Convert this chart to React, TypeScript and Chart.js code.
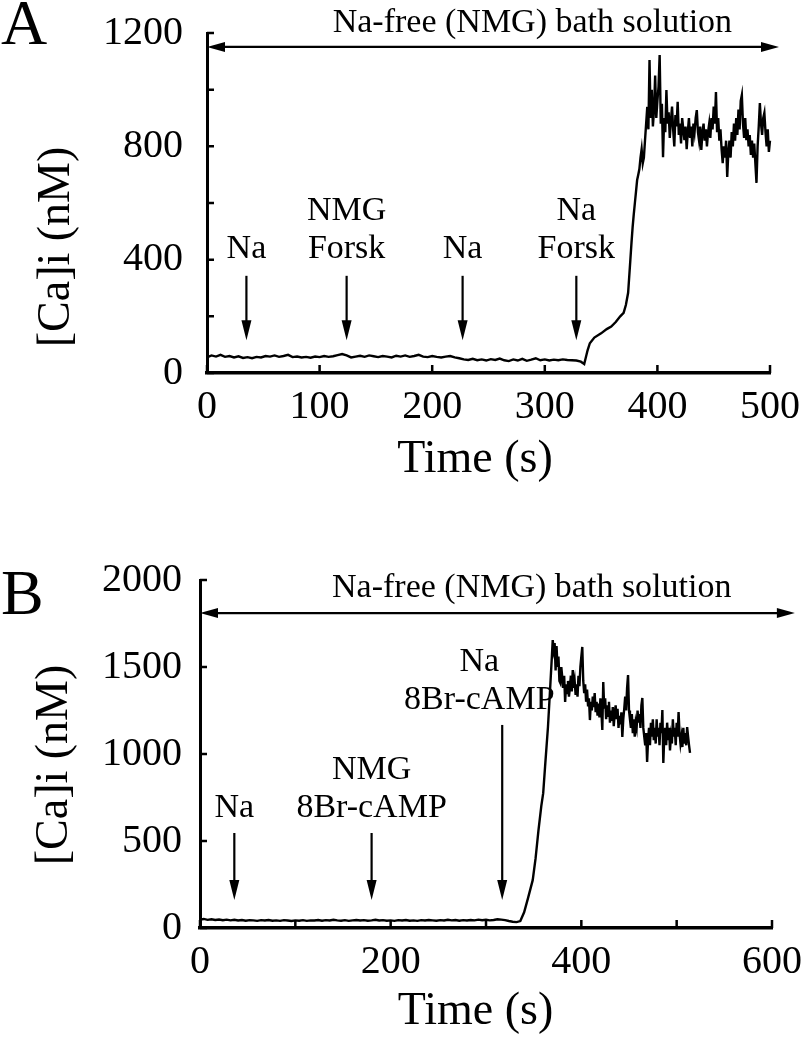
import React, { useEffect, useRef } from "react";
import { Chart, registerables } from "chart.js";

Chart.register(...registerables);

// ================= Panel A : Forskolin =================
// baseline, sampled every 4 s from t = 0 s
const baselineStepA = 4;
const baselineA = [
  55, 62, 58, 64, 57, 60, 55, 59, 53, 56,
  52, 57, 55, 60, 58, 62, 57, 60, 64, 56,
  58, 55, 57, 54, 58, 56, 60, 57, 59, 63,
  67, 62, 55, 58, 61, 57, 62, 59, 56, 60,
  58, 55, 61, 58, 62, 57, 60, 64, 58, 56,
  60, 57, 55, 58, 60, 55, 52, 48, 46, 50,
  45, 48, 44, 49, 46, 51, 45, 42, 48, 44,
  50, 43, 47, 52, 45, 48, 44, 47, 45, 48,
  46, 45, 44, 40,
];
// onset of the rise
const riseTimesA = [335, 338, 340, 344, 350, 355, 359, 363, 367, 370, 372, 374];
const riseValuesA = [32, 80, 105, 125, 140, 155, 164, 180, 200, 212, 240, 283];
// plateau, sampled every 1 s from t = 376 s
const plateauStartA = 376;
const plateauStepA = 1;
const plateauA = [
  400, 460, 515, 560, 600, 640, 681, 700, 720, 760,
  790, 740, 760, 822, 880, 939, 860, 1105, 900, 1000,
  870, 928, 1050, 900, 960, 1010, 1122, 880, 950, 762,
  900, 850, 999, 880, 920, 830, 890, 940, 858, 800,
  910, 870, 957, 840, 880, 810, 900, 860, 822, 870,
  790, 850, 900, 830, 870, 800, 880, 850, 900, 928,
  850, 820, 870, 787, 850, 880, 820, 860, 800, 850,
  880, 830, 900, 860, 940, 880, 992, 850, 900, 820,
  860, 790, 741, 800, 760, 820, 692, 780, 820, 760,
  850, 800, 880, 820, 900, 840, 930, 860, 960, 981,
  880, 830, 900, 822, 860, 800, 840, 770, 820, 760,
  810, 740, 671, 800, 870, 953, 880, 840, 900, 918,
  850, 800, 860, 780, 820, 790, 762,
];
const xTickLabelsA = [0, 100, 200, 300, 400, 500];
const yTickLabelsA = [0, 400, 800, 1200];
const eventTimesA = [35, 124, 227, 328];
const eventTextA = [["Na"], ["NMG", "Forsk"], ["Na"], ["Na", "Forsk"]];
const eventTextAtA = [35, 124, 227, 328];
const eventArrowFromA = [343, 343, 343, 343];
const eventArrowToA = [116, 116, 116, 116];
const eventTextLevelA = [438, 438, 438, 438];
const bathRangeA = [0, 508];
const bathLevelA = 1151;
const bathTextPosA = [289, 1235];

// ================= Panel B : 8Br-cAMP =================
const baselineStepB = 4;
const baselineB = [
  48, 52, 47, 50, 46, 49, 45, 48, 44, 47,
  43, 46, 42, 45, 44, 41, 45, 43, 46, 42,
  44, 41, 45, 43, 40, 44, 42, 45, 41, 44,
  43, 46, 42, 45, 43, 47, 44, 42, 45, 41,
  44, 46, 43, 45, 42, 44, 47, 43, 45, 42,
  44, 41, 45, 43, 46, 42, 44, 41, 45, 43,
  46, 44, 42, 45, 43, 47, 44, 46, 42, 45,
  43, 46, 44, 48, 45, 47, 44, 46, 50, 48,
  45, 40, 36, 34,
];
const riseTimesB = [336, 340, 344, 349, 352, 355, 358, 360, 362, 365, 367, 369, 370];
const riseValuesB = [40, 90, 170, 275, 400, 560, 700, 775, 930, 1155, 1350, 1550, 1655];
const plateauStartB = 371;
const plateauStepB = 1;
const plateauB = [
  1600, 1638, 1480, 1620, 1500, 1560, 1420, 1408, 1500, 1440,
  1380, 1450, 1299, 1400, 1350, 1420, 1330, 1380, 1450, 1360,
  1483, 1380, 1420, 1340, 1400, 1330, 1450, 1390, 1500, 1560,
  1615, 1420, 1350, 1400, 1300, 1370, 1280, 1320, 1195, 1300,
  1250, 1330, 1270, 1350, 1240, 1300, 1220, 1290, 1210, 1320,
  1250, 1138, 1414, 1260, 1320, 1200, 1280, 1220, 1300, 1180,
  1250, 1190, 1270, 1160, 1230, 1280, 1200, 1260, 1150, 1220,
  1170, 1240, 1098, 1200, 1260, 1330, 1250, 1380, 1454, 1250,
  1200, 1150, 1230, 1120, 1200, 1100, 1180, 1150, 1250, 1180,
  1230, 1150, 1280, 1322, 1150, 1100, 1050, 1120, 954, 1080,
  1150, 1050, 1180, 1100, 1200, 1080, 1150, 1060, 1200, 1100,
  1150, 1050, 1180, 1120, 1253, 948, 1100, 1150, 1050, 1180,
  1080, 1150, 1020, 1100, 1060, 1200, 1100, 1150, 1050, 1180,
  1100, 1241, 1120, 1060, 1100, 1040, 1150, 1060, 1120, 1050,
  1155, 1100, 1050, 1006,
];
const xTickLabelsB = [0, 200, 400, 600];
const yTickLabelsB = [0, 500, 1000, 1500, 2000];
const eventTimesB = [36, 180, 317];
const eventTextB = [["Na"], ["NMG", "8Br-cAMP"], ["Na", "8Br-cAMP"]];
const eventTextAtB = [36, 180, 293];
const eventArrowFromB = [546, 546, 1167];
const eventArrowToB = [161, 161, 161];
const eventTextLevelB = [690, 690, 1310];
const bathRangeB = [0, 624];
const bathLevelB = 1810;
const bathTextPosB = [348, 1954];

const BATH_TEXT = "Na-free (NMG) bath solution";
const Y_TITLE = "[Ca]i (nM)";
const X_TITLE = "Time (s)";

const SERIF = '"Liberation Serif", "DejaVu Serif", "Times New Roman", serif';

function buildTrace(
  baseStep: number,
  base: number[],
  riseT: number[],
  riseV: number[],
  platStart: number,
  platStep: number,
  plat: number[]
) {
  const pts: { x: number; y: number }[] = [];
  base.forEach((v, i) => pts.push({ x: i * baseStep, y: v }));
  riseT.forEach((t, i) => pts.push({ x: t, y: riseV[i] }));
  plat.forEach((v, i) => pts.push({ x: platStart + i * platStep, y: v }));
  return pts;
}

type PanelCfg = {
  letter: string;
  points: { x: number; y: number }[];
  xMax: number;
  xStep: number;
  xLabels: number[];
  yMax: number;
  yStep: number;
  yLabels: number[];
  eventTimes: number[];
  eventText: string[][];
  eventTextAt: number[];
  eventFrom: number[];
  eventTo: number[];
  eventTextLevel: number[];
  bathRange: number[];
  bathLevel: number;
  bathTextPos: number[];
  // layout (pixels inside the canvas)
  canvasH: number;
  padTop: number;
  padRight: number;
  padBottom: number;
  yAxisW: number;
  yLabelPad: number;
  xLabelPad: number;
  letterPos: number[];
  yTitlePos: number[];
  xTitleY: number;
  xTitleAt: number;
};

function makeFigPlugin(p: PanelCfg) {
  return {
    id: "fig" + p.letter,
    afterDraw(chart: any) {
      const { ctx, chartArea: ca } = chart;
      const xs = chart.scales.x;
      const ys = chart.scales.y;
      ctx.save();
      ctx.strokeStyle = "#000";
      ctx.fillStyle = "#000";

      // inward tick marks
      ctx.lineWidth = 2.5;
      ctx.beginPath();
      xs.ticks.forEach((t: any) => {
        const px = xs.getPixelForValue(t.value);
        ctx.moveTo(px, ca.bottom);
        ctx.lineTo(px, ca.bottom - 8);
      });
      ys.ticks.forEach((t: any) => {
        const py = ys.getPixelForValue(t.value);
        ctx.moveTo(ca.left, py);
        ctx.lineTo(ca.left + 7, py);
      });
      ctx.stroke();

      // panel letter
      ctx.font = `64px ${SERIF}`;
      ctx.textAlign = "left";
      ctx.textBaseline = "alphabetic";
      ctx.fillText(p.letter, p.letterPos[0], p.letterPos[1]);

      // y title
      ctx.save();
      ctx.translate(p.yTitlePos[0], p.yTitlePos[1]);
      ctx.rotate(-Math.PI / 2);
      ctx.font = `46px ${SERIF}`;
      ctx.textAlign = "center";
      ctx.textBaseline = "middle";
      ctx.fillText(Y_TITLE, 0, 0);
      ctx.restore();

      // x title
      ctx.font = `46px ${SERIF}`;
      ctx.textAlign = "center";
      ctx.textBaseline = "middle";
      ctx.fillText(X_TITLE, xs.getPixelForValue(p.xTitleAt), p.xTitleY);

      // bath-solution double arrow
      const by = ys.getPixelForValue(p.bathLevel);
      const bx0 = xs.getPixelForValue(p.bathRange[0]);
      const bx1 = xs.getPixelForValue(p.bathRange[1]);
      const hl = 18;
      const hw = 5;
      ctx.lineWidth = 2.2;
      ctx.beginPath();
      ctx.moveTo(bx0 + hl - 2, by);
      ctx.lineTo(bx1 - hl + 2, by);
      ctx.stroke();
      ctx.beginPath();
      ctx.moveTo(bx0, by);
      ctx.lineTo(bx0 + hl, by - hw);
      ctx.lineTo(bx0 + hl, by + hw);
      ctx.closePath();
      ctx.fill();
      ctx.beginPath();
      ctx.moveTo(bx1, by);
      ctx.lineTo(bx1 - hl, by - hw);
      ctx.lineTo(bx1 - hl, by + hw);
      ctx.closePath();
      ctx.fill();
      ctx.font = `34px ${SERIF}`;
      ctx.textAlign = "center";
      ctx.textBaseline = "middle";
      ctx.fillText(
        BATH_TEXT,
        xs.getPixelForValue(p.bathTextPos[0]),
        ys.getPixelForValue(p.bathTextPos[1])
      );

      // event arrows and labels
      p.eventTimes.forEach((t, i) => {
        const ax = xs.getPixelForValue(t);
        const y0 = ys.getPixelForValue(p.eventFrom[i]);
        const y1 = ys.getPixelForValue(p.eventTo[i]);
        const ahl = 20;
        const ahw = 5;
        ctx.lineWidth = 2.2;
        ctx.beginPath();
        ctx.moveTo(ax, y0);
        ctx.lineTo(ax, y1 - ahl + 2);
        ctx.stroke();
        ctx.beginPath();
        ctx.moveTo(ax, y1);
        ctx.lineTo(ax - ahw, y1 - ahl);
        ctx.lineTo(ax + ahw, y1 - ahl);
        ctx.closePath();
        ctx.fill();

        const lines = p.eventText[i];
        const tx = xs.getPixelForValue(p.eventTextAt[i]);
        const ty = ys.getPixelForValue(p.eventTextLevel[i]);
        ctx.font = `34px ${SERIF}`;
        ctx.textAlign = "center";
        ctx.textBaseline = "middle";
        lines.forEach((ln, k) => {
          ctx.fillText(ln, tx, ty - (lines.length - 1 - k) * 38);
        });
      });

      ctx.restore();
    },
  };
}

function Panel({ cfg, top }: { cfg: PanelCfg; top: number }) {
  const ref = useRef<HTMLCanvasElement | null>(null);
  useEffect(() => {
    if (!ref.current) return;
    const tickFont = { family: SERIF, size: 40 };
    const chart = new Chart(ref.current, {
      type: "line",
      data: {
        datasets: [
          {
            data: cfg.points,
            borderColor: "#000",
            borderWidth: 2.4,
            pointRadius: 0,
            tension: 0,
            fill: false,
            clip: false as any,
          },
        ],
      },
      options: {
        animation: false,
        responsive: false,
        maintainAspectRatio: false,
        events: [],
        layout: {
          padding: { top: cfg.padTop, right: cfg.padRight, bottom: cfg.padBottom, left: 0 },
        },
        plugins: {
          legend: { display: false },
          tooltip: { enabled: false },
          title: { display: false },
        },
        scales: {
          x: {
            type: "linear",
            min: 0,
            max: cfg.xMax,
            grid: { display: false, drawTicks: false },
            border: { display: true, color: "#000", width: 3.5 },
            ticks: {
              stepSize: cfg.xStep,
              autoSkip: false,
              maxRotation: 0,
              color: "#000",
              font: tickFont,
              padding: cfg.xLabelPad,
              callback: (v: any) => (cfg.xLabels.includes(Number(v)) ? String(v) : ""),
            },
            afterFit: (s: any) => {
              s.height = 60;
              s.paddingLeft = 0;
              s.paddingRight = 0;
            },
          },
          y: {
            type: "linear",
            min: 0,
            max: cfg.yMax,
            grid: { display: false, drawTicks: false },
            border: { display: true, color: "#000", width: 3 },
            ticks: {
              stepSize: cfg.yStep,
              autoSkip: false,
              color: "#000",
              font: tickFont,
              padding: cfg.yLabelPad,
              callback: (v: any) => (cfg.yLabels.includes(Number(v)) ? String(v) : ""),
            },
            afterFit: (s: any) => {
              s.width = cfg.yAxisW;
              s.paddingTop = 0;
              s.paddingBottom = 0;
            },
          },
        },
      },
      plugins: [makeFigPlugin(cfg)],
    });
    return () => chart.destroy();
  }, [cfg]);
  return (
    <canvas
      ref={ref}
      width={811}
      height={cfg.canvasH}
      style={{ position: "absolute", left: 0, top, width: 811, height: cfg.canvasH }}
    />
  );
}

const panelA: PanelCfg = {
  letter: "A",
  points: buildTrace(baselineStepA, baselineA, riseTimesA, riseValuesA, plateauStartA, plateauStepA, plateauA),
  xMax: 500,
  xStep: 100,
  xLabels: xTickLabelsA,
  yMax: 1200,
  yStep: 200,
  yLabels: yTickLabelsA,
  eventTimes: eventTimesA,
  eventText: eventTextA,
  eventTextAt: eventTextAtA,
  eventFrom: eventArrowFromA,
  eventTo: eventArrowToA,
  eventTextLevel: eventTextLevelA,
  bathRange: bathRangeA,
  bathLevel: bathLevelA,
  bathTextPos: bathTextPosA,
  canvasH: 520,
  padTop: 33,
  padRight: 41,
  padBottom: 87,
  yAxisW: 207,
  yLabelPad: 24,
  xLabelPad: 10,
  letterPos: [1, 44],
  yTitlePos: [57, 247],
  xTitleY: 460,
  xTitleAt: 238,
};

const panelB: PanelCfg = {
  letter: "B",
  points: buildTrace(baselineStepB, baselineB, riseTimesB, riseValuesB, plateauStartB, plateauStepB, plateauB),
  xMax: 600,
  xStep: 100,
  xLabels: xTickLabelsB,
  yMax: 2000,
  yStep: 500,
  yLabels: yTickLabelsB,
  eventTimes: eventTimesB,
  eventText: eventTextB,
  eventTextAt: eventTextAtB,
  eventFrom: eventArrowFromB,
  eventTo: eventArrowToB,
  eventTextLevel: eventTextLevelB,
  bathRange: bathRangeB,
  bathLevel: bathLevelB,
  bathTextPos: bathTextPosB,
  canvasH: 530,
  padTop: 60,
  padRight: 39,
  padBottom: 62,
  yAxisW: 200,
  yLabelPad: 18,
  xLabelPad: 10,
  letterPos: [1, 94],
  yTitlePos: [55, 245],
  xTitleY: 492,
  xTitleAt: 289,
};

export default function App() {
  useEffect(() => {
    document.body.style.margin = "0";
  }, []);
  return (
    <div style={{ position: "relative", width: 811, height: 1050, background: "#fff" }}>
      <Panel cfg={panelA} top={0} />
      <Panel cfg={panelB} top={520} />
    </div>
  );
}
